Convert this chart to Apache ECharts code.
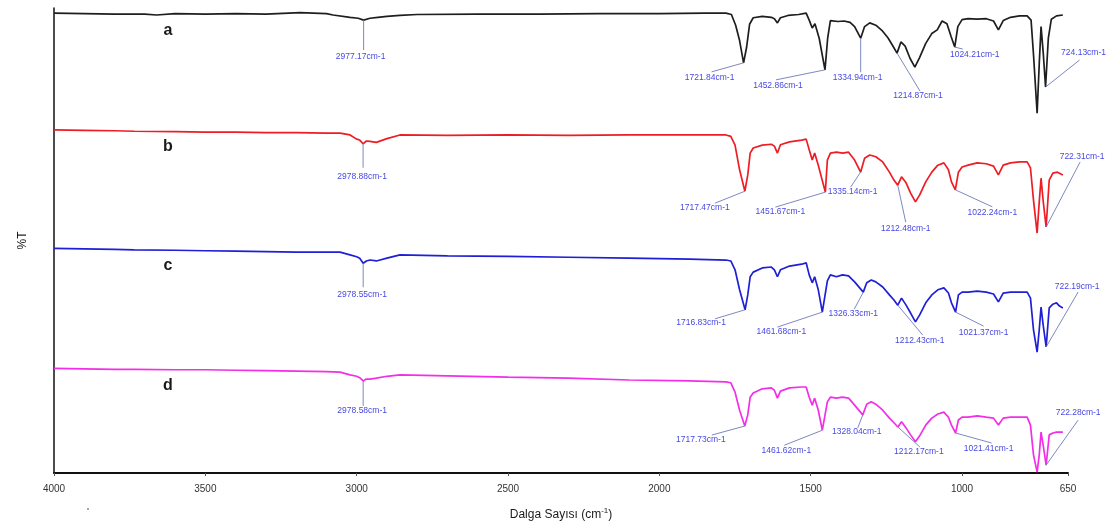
<!DOCTYPE html>
<html>
<head>
<meta charset="utf-8">
<script src="https://cdn.jsdelivr.net/npm/echarts@6/dist/echarts.min.js"></script>
<style>
html, body { margin: 0; padding: 0; background: #fff; }
#chart { width: 1109px; height: 524px; }
</style>
</head>
<body>
<div id="chart"></div>
<script>
// FTIR spectra a-d, stacked with vertical offsets (%T, arbitrary offset units)
const xTicks = [4000, 3500, 3000, 2500, 2000, 1500, 1000, 650];
const traceNames = ['a', 'b', 'c', 'd'];
const traceColors = ['#1e1e1e', '#ee1c24', '#1f1fd6', '#f22ee8'];

// [wavenumber cm-1, %T]
const traceA = [
  [4000, 98.9], [3900, 98.8], [3800, 98.7], [3700, 98.7], [3661, 98.5], [3600, 98.8], [3500, 98.7],
  [3400, 98.8], [3300, 98.7], [3187, 99.0], [3100, 98.8], [3078, 98.5], [3022, 98.0], [2995, 97.8],
  [2977.17, 97.4], [2956, 97.8], [2930, 98.0], [2900, 98.2], [2857, 98.4], [2800, 98.6], [2600, 98.7],
  [2400, 98.7], [2200, 98.8], [2000, 98.8], [1850, 98.9], [1780, 98.9], [1762, 98.6], [1748, 96.3],
  [1735, 93.0], [1721.84, 88.2], [1712, 91.5], [1702, 96.5], [1690, 97.9], [1660, 98.2], [1630, 98.0],
  [1620, 97.7], [1610, 96.8], [1600, 97.9], [1575, 98.4], [1540, 98.6], [1515, 98.9], [1505, 97.4],
  [1495, 95.7], [1486, 96.6], [1472, 93.5], [1452.86, 86.7], [1444, 93.5], [1435, 97.3], [1410, 97.1],
  [1390, 97.2], [1370, 96.9], [1355, 96.0], [1334.94, 93.5], [1322, 96.0], [1305, 96.8], [1285, 96.3],
  [1265, 95.2], [1245, 93.6], [1230, 92.0], [1214.87, 90.3], [1202, 92.7], [1188, 91.8], [1172, 89.2],
  [1156, 87.3], [1140, 89.4], [1120, 92.4], [1100, 94.5], [1082, 95.3], [1066, 97.2], [1050, 96.6],
  [1036, 93.8], [1024.21, 91.6], [1014, 96.0], [1000, 97.5], [980, 97.7], [950, 97.6], [920, 97.7],
  [896, 97.2], [880, 95.3], [864, 97.3], [840, 98.0], [810, 98.3], [785, 98.3], [772, 97.4],
  [764, 90.0], [752, 77.4], [745, 88.0], [739, 96.0], [732, 90.5], [724.13, 83.0], [715, 93.5],
  [705, 97.6], [688, 98.3], [667, 98.5]
];

const traceB = [
  [4000, 73.8], [3900, 73.7], [3800, 73.6], [3735, 73.5], [3600, 73.4], [3500, 73.3], [3400, 73.3],
  [3300, 73.2], [3200, 73.2], [3100, 73.1], [3055, 73.1], [3022, 72.7], [3000, 71.8], [2990, 71.6],
  [2978.88, 70.8], [2968, 71.4], [2956, 71.3], [2935, 71.1], [2900, 71.9], [2857, 72.7], [2700, 72.6],
  [2500, 72.7], [2300, 72.6], [2100, 72.7], [1900, 72.7], [1780, 72.7], [1764, 72.4], [1750, 70.5],
  [1735, 65.2], [1717.47, 60.6], [1708, 64.1], [1700, 68.8], [1690, 69.9], [1660, 70.5], [1630, 70.7],
  [1620, 70.3], [1610, 68.8], [1600, 70.6], [1570, 71.2], [1530, 71.6], [1515, 71.8], [1505, 69.5],
  [1495, 67.3], [1487, 68.8], [1475, 66.2], [1451.67, 60.4], [1445, 67.3], [1435, 68.8], [1415, 69.0],
  [1395, 68.8], [1375, 69.0], [1355, 67.3], [1335.14, 64.7], [1322, 67.7], [1305, 68.4], [1285, 68.0],
  [1262, 66.9], [1240, 64.7], [1225, 63.0], [1212.48, 61.9], [1200, 63.7], [1185, 62.4], [1170, 60.2],
  [1154, 58.3], [1140, 59.8], [1120, 62.6], [1100, 64.7], [1080, 66.2], [1060, 66.7], [1045, 65.2],
  [1035, 62.6], [1022.24, 60.9], [1012, 64.7], [1000, 65.8], [980, 66.2], [950, 66.7], [920, 66.5],
  [896, 66.0], [880, 64.1], [864, 66.2], [840, 66.7], [810, 66.9], [785, 66.9], [774, 65.6],
  [764, 58.7], [752, 51.6], [745, 58.3], [739, 63.4], [732, 58.5], [722.31, 52.9], [712, 63.0],
  [700, 64.5], [685, 64.7], [667, 64.1]
];

const traceC = [
  [4000, 48.3], [3900, 48.2], [3800, 48.1], [3735, 48.0], [3600, 47.9], [3500, 47.8], [3400, 47.7],
  [3300, 47.6], [3200, 47.5], [3100, 47.5], [3055, 47.5], [3022, 46.9], [3000, 46.5], [2990, 46.2],
  [2978.55, 45.1], [2968, 45.6], [2956, 45.8], [2935, 45.6], [2900, 46.2], [2857, 46.9], [2700, 46.7],
  [2500, 46.6], [2300, 46.4], [2100, 46.2], [1900, 46.0], [1780, 45.8], [1764, 45.6], [1750, 43.7],
  [1735, 39.4], [1716.83, 35.1], [1708, 38.3], [1700, 42.2], [1690, 43.2], [1660, 44.1], [1630, 44.3],
  [1620, 43.7], [1610, 42.2], [1600, 43.7], [1570, 44.5], [1530, 44.9], [1515, 45.2], [1505, 42.6],
  [1495, 40.9], [1487, 42.2], [1475, 39.4], [1461.68, 34.6], [1445, 41.3], [1435, 42.6], [1415, 42.2],
  [1395, 42.6], [1375, 42.4], [1355, 41.1], [1326.33, 38.9], [1315, 40.9], [1300, 41.5], [1285, 41.1],
  [1262, 40.0], [1240, 38.3], [1225, 37.2], [1212.43, 36.1], [1200, 37.6], [1185, 36.1], [1170, 34.4],
  [1154, 32.5], [1140, 34.0], [1120, 36.6], [1100, 38.3], [1080, 39.4], [1060, 39.8], [1045, 38.7],
  [1035, 36.6], [1021.37, 34.6], [1012, 38.3], [1000, 38.9], [980, 38.9], [950, 39.1], [920, 38.9],
  [896, 38.5], [880, 36.8], [864, 38.7], [840, 38.9], [810, 38.9], [785, 38.9], [774, 37.6],
  [764, 30.8], [752, 26.0], [745, 30.8], [739, 35.7], [732, 31.8], [722.19, 27.1], [712, 35.5],
  [700, 36.3], [688, 36.6], [678, 35.9], [667, 35.5]
];

const traceD = [
  [4000, 22.5], [3900, 22.4], [3800, 22.3], [3735, 22.3], [3600, 22.2], [3500, 22.2], [3400, 22.1],
  [3300, 22.0], [3200, 21.9], [3100, 21.8], [3055, 21.7], [3022, 21.1], [3000, 20.8], [2990, 20.5],
  [2978.58, 19.8], [2968, 20.2], [2956, 20.2], [2935, 20.4], [2900, 20.8], [2857, 21.1], [2700, 20.9],
  [2500, 20.6], [2300, 20.4], [2100, 20.0], [1900, 19.8], [1780, 19.6], [1764, 19.4], [1750, 17.4],
  [1735, 13.5], [1717.73, 10.1], [1708, 12.5], [1700, 16.3], [1690, 17.2], [1660, 18.1], [1630, 18.3],
  [1620, 17.8], [1610, 16.1], [1600, 17.6], [1570, 18.3], [1530, 18.5], [1515, 18.5], [1505, 16.3],
  [1495, 14.6], [1487, 16.1], [1475, 13.5], [1461.62, 9.2], [1445, 15.3], [1435, 16.3], [1415, 16.1],
  [1395, 16.3], [1375, 16.1], [1355, 14.6], [1328.04, 12.5], [1315, 14.8], [1300, 15.3], [1285, 14.8],
  [1262, 13.5], [1240, 11.8], [1225, 10.8], [1212.17, 9.9], [1200, 11.0], [1185, 9.7], [1170, 8.2],
  [1154, 6.7], [1140, 8.0], [1120, 10.3], [1100, 11.8], [1080, 12.7], [1060, 13.1], [1045, 12.0],
  [1035, 10.3], [1021.41, 8.6], [1012, 11.4], [1000, 12.0], [980, 12.0], [950, 12.3], [920, 12.0],
  [896, 11.8], [880, 10.3], [864, 11.8], [840, 12.0], [810, 12.0], [785, 12.0], [774, 10.3],
  [764, 3.9], [752, 0.2], [745, 3.9], [739, 8.8], [732, 6.0], [722.28, 1.7], [712, 8.2],
  [700, 8.6], [688, 8.8], [678, 8.8], [667, 8.8]
];

// labelled peaks: [wavenumber, label]
const peaksA = [[2977.17, '2977.17cm-1'], [1721.84, '1721.84cm-1'], [1452.86, '1452.86cm-1'], [1334.94, '1334.94cm-1'], [1214.87, '1214.87cm-1'], [1024.21, '1024.21cm-1'], [724.13, '724.13cm-1']];
const peaksB = [[2978.88, '2978.88cm-1'], [1717.47, '1717.47cm-1'], [1451.67, '1451.67cm-1'], [1335.14, '1335.14cm-1'], [1212.48, '1212.48cm-1'], [1022.24, '1022.24cm-1'], [722.31, '722.31cm-1']];
const peaksC = [[2978.55, '2978.55cm-1'], [1716.83, '1716.83cm-1'], [1461.68, '1461.68cm-1'], [1326.33, '1326.33cm-1'], [1212.43, '1212.43cm-1'], [1021.37, '1021.37cm-1'], [722.19, '722.19cm-1']];
const peaksD = [[2978.58, '2978.58cm-1'], [1717.73, '1717.73cm-1'], [1461.62, '1461.62cm-1'], [1328.04, '1328.04cm-1'], [1212.17, '1212.17cm-1'], [1021.41, '1021.41cm-1'], [722.28, '722.28cm-1']];

// annotation layout, pixel offsets from each peak: [leaderDx, leaderDy, textDx, textDy]
const peakLayoutA = [[0, 30, -3, 37], [-32, 9, -34, 15], [-49, 10, -47, 16], [0, 34, -3, 39], [23, 38, 21, 43], [8, 2, 20, 8], [34, -27, 38, -34]];
const peakLayoutB = [[0, 24, -1, 33], [-30, 12, -40, 16], [-50, 15, -45, 20], [-10, 15, -8, 20], [8, 37, 8, 43], [37, 17, 37, 23], [34, -65, 36, -70]];
const peakLayoutC = [[0, 24, -1, 31], [-30, 9, -44, 13], [-45, 15, -41, 20], [-9, 17, -10, 22], [25, 30, 22, 36], [28, 14, 28, 21], [32, -55, 31, -60]];
const peakLayoutD = [[0, 25, -1, 30], [-33, 9, -44, 14], [-38, 15, -36, 20], [-5, 13, -6, 17], [22, 20, 21, 25], [36, 10, 33, 16], [32, -45, 32, -52]];

const traces = [traceA, traceB, traceC, traceD];
const peaks = [peaksA, peaksB, peaksC, peaksD];
const peakLayouts = [peakLayoutA, peakLayoutB, peakLayoutC, peakLayoutD];

const FONT = '"Liberation Sans", Arial, Helvetica, sans-serif';

function valueAt(trace, wn) {
  const p = trace.find(d => d[0] === wn);
  return p ? p[1] : null;
}

const series = [];
traces.forEach((trace, i) => {
  series.push({
    type: 'line',
    name: traceNames[i],
    data: trace,
    symbol: 'none',
    smooth: false,
    lineStyle: { color: traceColors[i], width: 1.7 },
    itemStyle: { color: traceColors[i] },
    z: 3
  });
  // peak annotations: leader line + wavenumber text
  const pk = peaks[i];
  const lay = peakLayouts[i];
  series.push({
    type: 'custom',
    clip: false,
    silent: true,
    z: 4,
    data: pk.map(p => [p[0], valueAt(trace, p[0])]),
    renderItem: function (params, api) {
      const pt = api.coord([api.value(0), api.value(1)]);
      const L = lay[params.dataIndex];
      return {
        type: 'group',
        children: [
          { type: 'line', shape: { x1: pt[0], y1: pt[1], x2: pt[0] + L[0], y2: pt[1] + L[1] },
            style: { stroke: '#6e7bb8', lineWidth: 0.9 } },
          { type: 'text', x: pt[0] + L[2], y: pt[1] + L[3],
            style: { text: pk[params.dataIndex][1], fill: '#4848e4', font: '8.5px ' + FONT,
                     align: 'center', verticalAlign: 'middle' } }
        ]
      };
    }
  });
  // trace letter, placed relative to the start of its trace
  series.push({
    type: 'custom',
    clip: false,
    silent: true,
    z: 4,
    data: [[trace[0][0], trace[0][1]]],
    renderItem: function (params, api) {
      const pt = api.coord([api.value(0), api.value(1)]);
      return {
        type: 'text', x: pt[0] + 114, y: pt[1] + 17,
        style: { text: traceNames[i], fill: '#1a1a1a', font: 'bold 16px ' + FONT,
                 align: 'center', verticalAlign: 'middle' }
      };
    }
  });
});

const chart = echarts.init(document.getElementById('chart'), null, { renderer: 'canvas' });
chart.setOption({
  animation: false,
  backgroundColor: '#ffffff',
  grid: { left: 54, right: 41, top: 8, bottom: 51, containLabel: false, outerBoundsMode: 'none' },
  xAxis: {
    type: 'value',
    inverse: true,
    min: 650,
    max: 4000,
    name: 'Dalga Sayısı (cm{sup|-1})',
    nameLocation: 'middle',
    nameGap: 34,
    nameTextStyle: {
      fontFamily: FONT, fontSize: 12, color: '#1a1a1a',
      rich: { sup: { fontFamily: FONT, fontSize: 8, color: '#1a1a1a', padding: [0, 0, 8, 0] } }
    },
    axisLine: { show: true, lineStyle: { color: '#111', width: 2 } },
    axisTick: { show: true, length: 3, customValues: xTicks, lineStyle: { color: '#555', width: 1 } },
    axisLabel: { customValues: xTicks, margin: 11, fontFamily: FONT, fontSize: 10, color: '#333',
                 formatter: v => String(v), showMinLabel: true, showMaxLabel: true },
    splitLine: { show: false }
  },
  yAxis: {
    type: 'value',
    min: 0,
    max: 100,
    name: '%T',
    nameLocation: 'middle',
    nameRotate: 90,
    nameGap: 25,
    nameTextStyle: { fontFamily: FONT, fontSize: 12, color: '#1a1a1a' },
    axisLine: { show: true, lineStyle: { color: '#111', width: 1.5 } },
    axisTick: { show: false },
    axisLabel: { show: false },
    splitLine: { show: false }
  },
  graphic: [
    { type: 'circle', shape: { cx: 88, cy: 509, r: 1 }, style: { fill: '#888' } }
  ],
  series: series
});
</script>
</body>
</html>
